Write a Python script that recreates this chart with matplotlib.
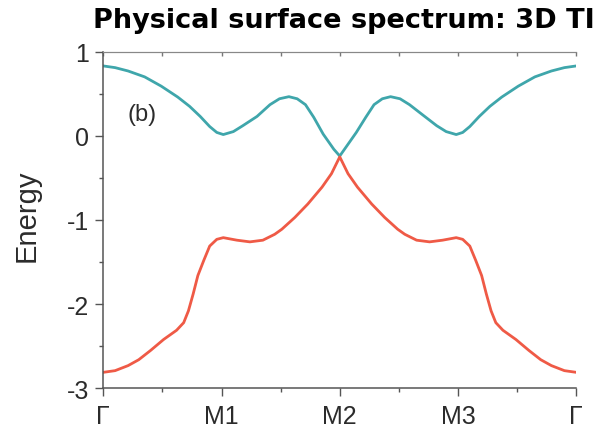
import numpy as np
import matplotlib
matplotlib.use("Agg")
import matplotlib.pyplot as plt
from matplotlib.ticker import MultipleLocator

# ==============================
# data
# ==============================
k_upper = [0.00, 0.10, 0.21, 0.35, 0.49, 0.63, 0.73, 0.82, 0.90, 0.96, 1.015, 1.10,
           1.18, 1.30, 1.41, 1.49, 1.57, 1.64, 1.71, 1.78, 1.86, 1.95, 2.00,
           2.05, 2.14, 2.22, 2.29, 2.36, 2.43, 2.51, 2.59, 2.70, 2.82, 2.90, 2.985,
           3.04, 3.10, 3.18, 3.27, 3.37, 3.51, 3.65, 3.79, 3.90, 4.00]
e_upper = [0.83, 0.81, 0.77, 0.70, 0.59, 0.46, 0.35, 0.23, 0.11, 0.04, 0.015, 0.05,
           0.12, 0.23, 0.37, 0.44, 0.465, 0.44, 0.37, 0.22, 0.02, -0.16, -0.24,
           -0.14, 0.04, 0.22, 0.37, 0.44, 0.465, 0.44, 0.37, 0.25, 0.12, 0.05, 0.015,
           0.04, 0.11, 0.23, 0.35, 0.46, 0.59, 0.70, 0.77, 0.81, 0.83]

k_lower = [0.00, 0.10, 0.21, 0.30, 0.40, 0.51, 0.62, 0.68, 0.72, 0.76, 0.80, 0.85,
           0.90, 0.96, 1.015, 1.13, 1.24, 1.35, 1.45, 1.51, 1.62, 1.73, 1.85, 1.93, 2.00,
           2.07, 2.15, 2.27, 2.38, 2.49, 2.55, 2.65, 2.76, 2.87, 2.985, 3.04, 3.10,
           3.15, 3.20, 3.24, 3.28, 3.32, 3.38, 3.49, 3.60, 3.70, 3.79, 3.90, 4.00]
e_lower = [-2.81, -2.79, -2.73, -2.66, -2.55, -2.42, -2.31, -2.22, -2.08, -1.88, -1.66, -1.48,
           -1.31, -1.23, -1.21, -1.24, -1.26, -1.24, -1.17, -1.11, -0.97, -0.81, -0.61, -0.45, -0.25,
           -0.45, -0.61, -0.81, -0.97, -1.11, -1.17, -1.24, -1.26, -1.24, -1.21, -1.23, -1.31,
           -1.48, -1.66, -1.88, -2.08, -2.22, -2.31, -2.42, -2.55, -2.66, -2.73, -2.79, -2.81]

k_ticks = [0, 1, 2, 3, 4]
k_labels = ["Γ", "M1", "M2", "M3", "Γ"]
e_ticks = [1, 0, -1, -2, -3]
e_labels = ["1", "0", "-1", "-2", "-3"]

CYAN = "#3fa6ab"
RED = "#ef5a46"
TXT = "#2b2b2b"
SPINE = "#555555"

# ==============================
# figure
# ==============================
fig = plt.figure(figsize=(6.04, 4.35), dpi=100)
ax = fig.add_axes([0.171, 0.105, 0.783, 0.774])

ax.plot(k_upper, e_upper, color=CYAN, lw=2.0, solid_joinstyle="round")
ax.plot(k_lower, e_lower, color=RED, lw=2.0, solid_joinstyle="round")

ax.set_xlim(0, 4)
ax.set_ylim(-3, 1)

ax.spines["right"].set_visible(False)
ax.spines["top"].set_color("#888888")
for s in ["left", "bottom"]:
    ax.spines[s].set_color(SPINE)
    ax.spines[s].set_linewidth(1.1)

ax.set_xticks(k_ticks)
ax.set_xticklabels(k_labels)
ax.set_yticks(e_ticks)
ax.set_yticklabels(e_labels)
ax.xaxis.set_minor_locator(MultipleLocator(0.5))
ax.yaxis.set_minor_locator(MultipleLocator(0.5))

ax.tick_params(which="major", length=6, width=1.0, color=SPINE,
               labelsize=18, labelcolor=TXT, direction="out")
ax.tick_params(which="minor", length=3, width=1.0, color=SPINE, direction="out")
ax.tick_params(axis="x", pad=5)
ax.tick_params(axis="y", pad=4)

# top ticks point inward
top = ax.secondary_xaxis("top")
top.set_xticks(np.arange(0, 4.01, 0.5))
top.tick_params(direction="in", length=3, width=1.0, color="#777777", labeltop=False)
top.spines["top"].set_color("#888888")

for lab in ax.get_xticklabels() + ax.get_yticklabels():
    lab.set_fontfamily("Liberation Sans")

ax.set_ylabel("Energy", fontsize=21, color=TXT, family="Liberation Sans")
ax.yaxis.set_label_coords(-0.133, 0.515)

ax.text(0.33, 0.26, "(b)", fontsize=17, color=TXT, family="Liberation Sans",
        ha="center", va="center")

fig.text(0.57, 1 - 28 / 435, "Physical surface spectrum: 3D TI", fontsize=19.5,
         fontweight="bold", family="DejaVu Sans", ha="center", va="baseline", color="black")

fig.savefig("out.png", dpi=100)
